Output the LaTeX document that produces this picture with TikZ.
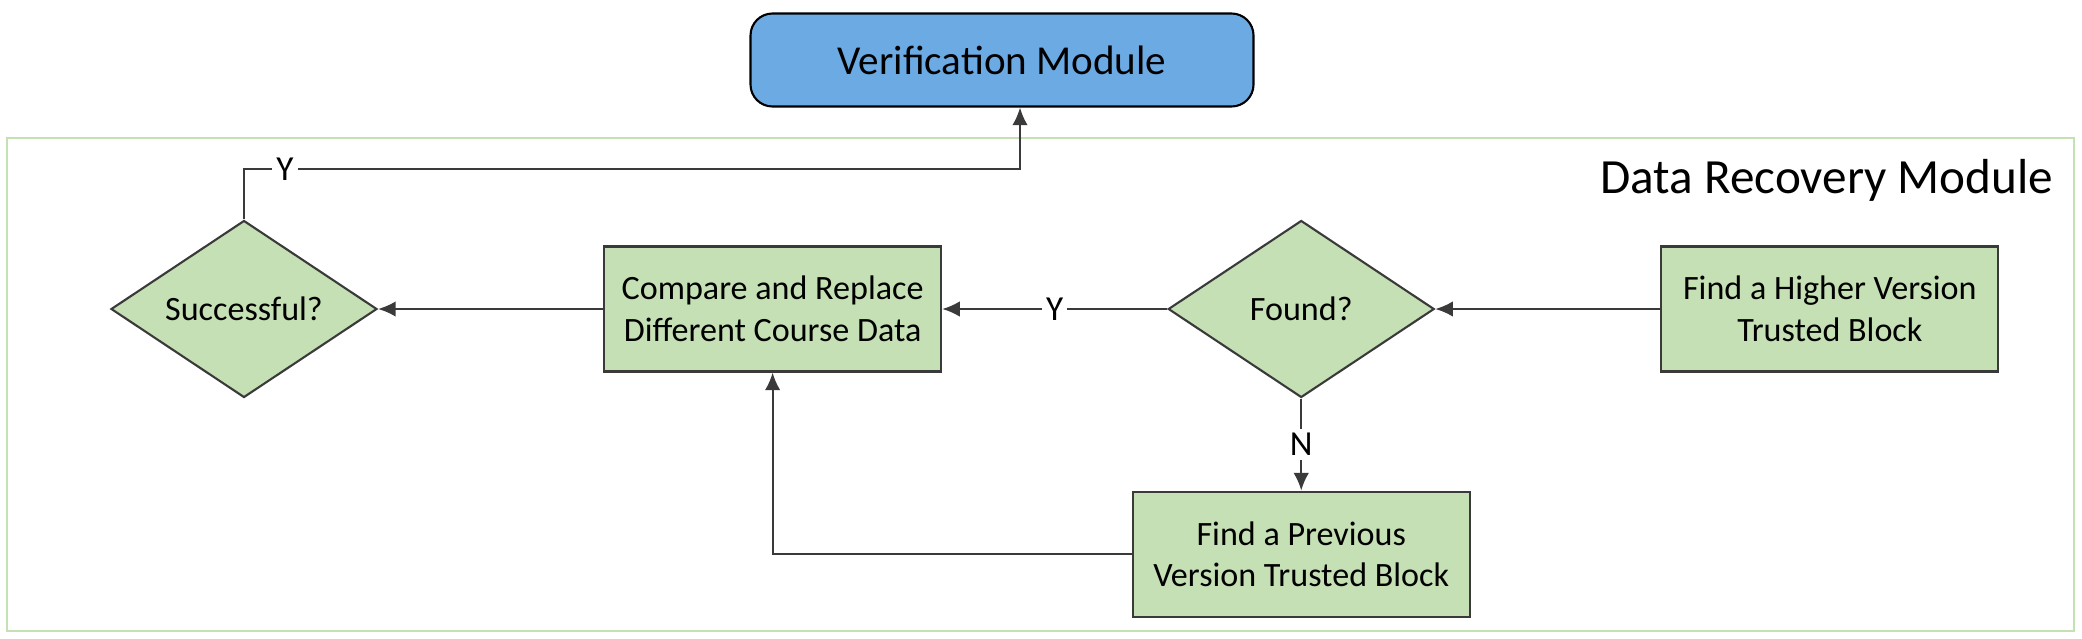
\documentclass[tikz,border=0pt]{standalone}
\usepackage{fontspec}
\setmainfont{Carlito}
\usetikzlibrary{calc,positioning,arrows.meta,shapes.geometric}

\definecolor{vblue}{RGB}{108,170,228}
\definecolor{rgreen}{RGB}{197,224,180}
\definecolor{rframe}{RGB}{195,225,178}
\definecolor{rline}{RGB}{58,58,58}

\begin{document}
\begin{tikzpicture}[node distance=2.25cm,>={Latex[length=5pt,width=4.4pt]},line width=0.6pt,
  block/.style={rectangle,draw=rline,fill=rgreen,minimum width=3.37cm,minimum height=1.25cm,
    align=center,font=\fontsize{9.7}{11.8}\selectfont},
  decision/.style={diamond,draw=rline,fill=rgreen,aspect=1.5,inner sep=1pt,
    minimum width=2.66cm,minimum height=1.77cm,font=\fontsize{9.7}{11.8}\selectfont},
  flow/.style={->,draw=rline},
  answer/.style={fill=white,inner sep=1.2pt,font=\fontsize{10}{12}\selectfont}]
  \useasboundingbox (0,0) rectangle (20.82,-6.38);
  % recovery module frame
  \draw[rframe,line width=0.8pt] (0.07,-1.38) rectangle (20.74,-6.31);
  \node[anchor=north east,font=\fontsize{14}{16}\selectfont] (title) at (20.66,-1.47) {Data Recovery Module};
  %
  \node[rectangle,rounded corners=0.22cm,draw=black,fill=vblue,minimum width=5.03cm,minimum height=0.93cm,
    font=\fontsize{11.7}{14}\selectfont] (verif) at (10.02,-0.60) {Verification Module};
  \node[decision] (succ) at (2.44,-3.09) {Successful?};
  \node[block,right = of succ] (compare) {Compare and Replace\\Different Course Data};
  \node[decision,right = of compare] (found) {Found?};
  \node[block,right = of found] (higher) {Find a Higher Version\\Trusted Block};
  \node[block,below = 0.92cm of found] (previous) {Find a Previous\\Version Trusted Block};
  \coordinate (vin) at ($(verif.south)+(0.18,0)$);
  %
  \draw[flow] (higher) -- (found);
  \draw[flow] (found) -- node[answer,midway]{Y} (compare);
  \draw[flow] (compare) -- (succ);
  \draw[flow] (found) -- node[answer,midway]{N} (previous);
  \draw[flow] (previous) -| (compare);
  \draw[flow] (succ.north) -- ++(0,0.505) coordinate (bend) -| (vin);
  \node[answer] (ylab) at ($(bend)+(0.41,0)$) {Y};
\end{tikzpicture}
\end{document}
